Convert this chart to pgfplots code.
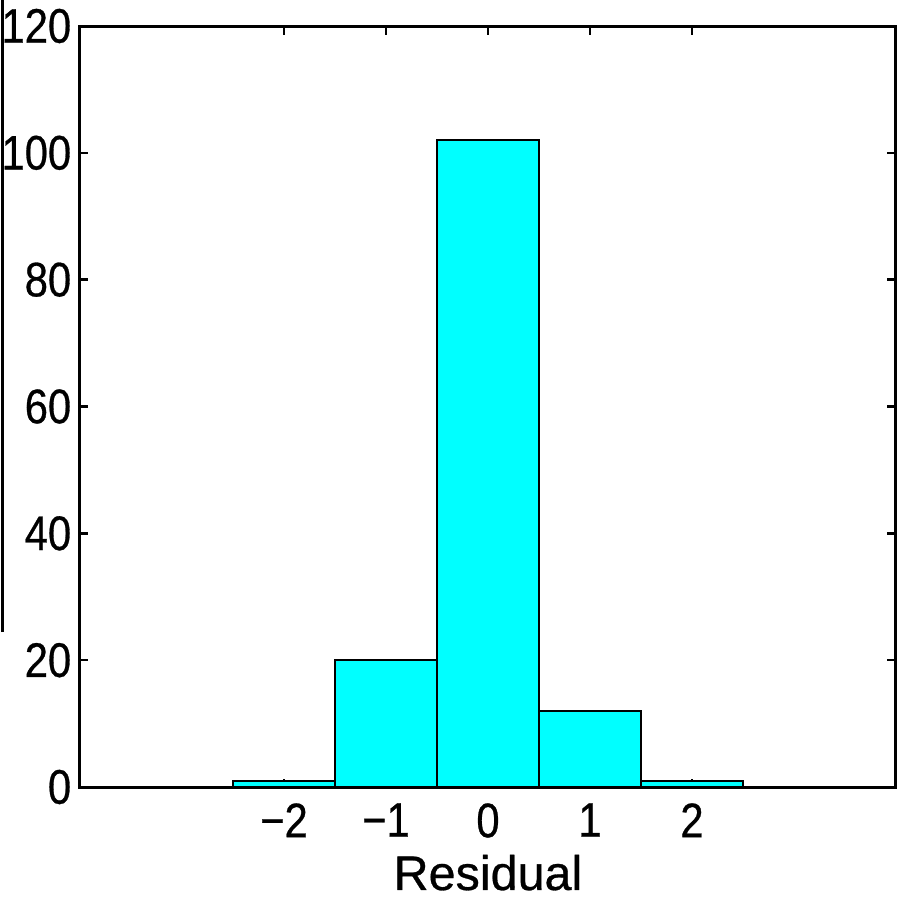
\documentclass[border=0pt]{standalone}
\usepackage{pgfplots}
\pgfplotsset{compat=1.18}
\usepackage{fontspec}
\setmainfont{Liberation Sans}
\newfontfamily\tickfont[FakeStretch=0.86,FakeBold=0.6]{Liberation Sans}
\newfontfamily\labfont[FakeBold=0.6]{Liberation Sans}
\definecolor{mcyan}{RGB}{0,255,255}
\begin{document}
\begin{tikzpicture}
\begin{axis}[
  at={(0,0)}, anchor=south west,
  scale only axis,
  width=326.4pt, height=304.4pt,
  xmin=-4, xmax=4, ymin=0, ymax=120,
  xtick={-2,-1,0,1,2},
  xticklabels={−2,−1,0,1,2},
  ytick={0,20,40,60,80,100,120},
  tick pos=both,
  tick align=inside,
  major tick length=3.4pt,
  axis line style={line width=1.2pt},
  every tick/.style={black, line width=1.0pt},
  /pgf/number format/assume math mode=true,
  ticklabel style={font=\tickfont\fontsize{19.4}{22}\selectfont},
  xticklabel style={yshift=-3pt},
  yticklabel style={xshift=0pt},
  xlabel={Residual},
  xlabel style={font=\labfont\fontsize{19.4}{22}\selectfont, yshift=0pt},
]
\addplot[ybar, bar width=1, fill=mcyan, draw=black, line width=0.8pt]
  coordinates {(-2,1) (-1,20) (0,102) (1,12) (2,1)};
\end{axis}
\draw[line width=1.2pt] (-30.8pt,62pt) -- (-30.8pt,316pt);
\pgfresetboundingbox
\useasboundingbox (-32pt,-45.2pt) rectangle (329.2pt,314.8pt);
\end{tikzpicture}
\end{document}
